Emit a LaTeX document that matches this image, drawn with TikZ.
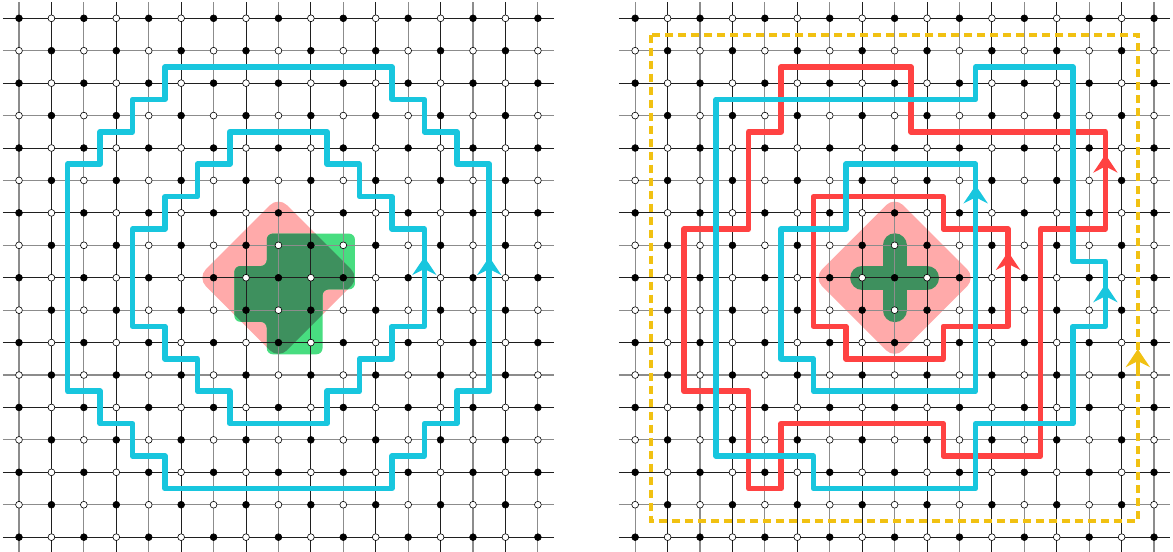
\documentclass[tikz,border=0pt]{standalone}
\usetikzlibrary{arrows.meta}
\definecolor{pathcyan}{RGB}{24,198,222}
\definecolor{pathred}{RGB}{255,66,66}
\definecolor{diamondpink}{RGB}{255,170,170}
\definecolor{brightgreen}{RGB}{72,221,128}
\definecolor{deepgreen}{RGB}{62,144,94}
\definecolor{pathyellow}{RGB}{241,193,18}
\newcommand\drawlattice[1]{%
  \foreach \k in {0,2,...,16} {
    \draw[gridgray] (\k,-0.5) -- (\k,16.6);
    \draw[gridblack] (-0.5,\k) -- (16.5,\k);
  }
  \foreach \k in {1,3,...,15} {
    \draw[gridblack] (\k,-0.5) -- (\k,16.6);
    \draw[gridgray] (-0.5,\k) -- (16.5,\k);
  }
  \foreach \c in {0,...,16} {
    \foreach \r in {0,...,16} {
      \pgfmathtruncatemacro\parity{mod(\c+\r,2)}
      \ifnum\parity=0
        \node[blacknode] (#1-\c-\r) at (\c,\r) {};
      \else
        \node[whitenode] (#1-\c-\r) at (\c,\r) {};
      \fi
    }
  }
}
\begin{document}
\begin{tikzpicture}[x=32.43pt,y=-32.43pt,
  gridgray/.style={draw=black!45,line width=1.2pt},
  gridblack/.style={draw=black!88,line width=0.9pt},
  blacknode/.style={circle,draw=black,fill=black,inner sep=0pt,minimum size=6.8pt,line width=0.6pt},
  whitenode/.style={circle,draw=black,fill=white,inner sep=0pt,minimum size=6.8pt,line width=0.6pt},
  cyanloop/.style={draw=pathcyan,line width=5.5pt,line join=round},
  redloop/.style={draw=pathred,line width=5.5pt,line join=round},
  yellowloop/.style={draw=pathyellow,line width=4pt,dash pattern=on 8pt off 5pt},
  flowtip/.style={-{Stealth[length=18pt,width=24pt,inset=6pt]}},
  diamondfill/.style={fill=diamondpink,rounded corners=12pt},
]
\useasboundingbox (-0.586,-0.564) rectangle (35.585,16.457);
\fill[white] (-0.586,-0.564) rectangle (35.585,16.457);

% ---------------- left panel ----------------
\begin{scope}
  \path[diamondfill] (8,5.5) -- (10.5,8) -- (8,10.5) -- (5.5,8) -- cycle;
  \fill[brightgreen,rounded corners=6pt] (7.64,6.64) -- (10.36,6.64) -- (10.36,8.36) -- (9.36,8.36) -- (9.36,10.36) -- (7.64,10.36) -- (7.64,9.36) -- (6.64,9.36) -- (6.64,7.64) -- (7.64,7.64) -- cycle;
  \begin{scope}
    \clip[rounded corners=12pt] (8,5.5) -- (10.5,8) -- (8,10.5) -- (5.5,8) -- cycle;
    \fill[deepgreen,rounded corners=6pt] (7.64,6.64) -- (10.36,6.64) -- (10.36,8.36) -- (9.36,8.36) -- (9.36,10.36) -- (7.64,10.36) -- (7.64,9.36) -- (6.64,9.36) -- (6.64,7.64) -- (7.64,7.64) -- cycle;
  \end{scope}
  \drawlattice{L}
  \draw[cyanloop] (4.5,1.5) -- (11.5,1.5) -- (11.5,2.5) -- (12.5,2.5) -- (12.5,3.5) -- (13.5,3.5) -- (13.5,4.5) -- (14.5,4.5) -- (14.5,11.5) -- (13.5,11.5) -- (13.5,12.5) -- (12.5,12.5) -- (12.5,13.5) -- (11.5,13.5) -- (11.5,14.5) -- (4.5,14.5) -- (4.5,13.5) -- (3.5,13.5) -- (3.5,12.5) -- (2.5,12.5) -- (2.5,11.5) -- (1.5,11.5) -- (1.5,4.5) -- (2.5,4.5) -- (2.5,3.5) -- (3.5,3.5) -- (3.5,2.5) -- (4.5,2.5) -- cycle;
  \draw[cyanloop] (6.5,3.5) -- (9.5,3.5) -- (9.5,4.5) -- (10.5,4.5) -- (10.5,5.5) -- (11.5,5.5) -- (11.5,6.5) -- (12.5,6.5) -- (12.5,9.5) -- (11.5,9.5) -- (11.5,10.5) -- (10.5,10.5) -- (10.5,11.5) -- (9.5,11.5) -- (9.5,12.5) -- (6.5,12.5) -- (6.5,11.5) -- (5.5,11.5) -- (5.5,10.5) -- (4.5,10.5) -- (4.5,9.5) -- (3.5,9.5) -- (3.5,6.5) -- (4.5,6.5) -- (4.5,5.5) -- (5.5,5.5) -- (5.5,4.5) -- (6.5,4.5) -- cycle;
  \coordinate (LoA) at (14.5,8.1); \coordinate (LoB) at (14.5,7.36);
  \coordinate (LiA) at (12.5,8.1); \coordinate (LiB) at (12.5,7.36);
  \draw[cyanloop,flowtip] (LoA) -- (LoB);
  \draw[cyanloop,flowtip] (LiA) -- (LiB);
\end{scope}

% ---------------- right panel ----------------
\begin{scope}[shift={(19,0)}]
  \path[diamondfill] (8,5.5) -- (10.5,8) -- (8,10.5) -- (5.5,8) -- cycle;
  \draw[deepgreen,line width=24pt,line cap=round] (7,8) -- (9,8) (8,7) -- (8,9);
  \drawlattice{R}
  \draw[yellowloop] (0.5,0.5) rectangle (15.5,15.5);
  \coordinate (RyA) at (15.5,10.85); \coordinate (RyB) at (15.5,10.2);
  \draw[draw=pathyellow,line width=4pt,flowtip] (RyA) -- (RyB);
  \draw[redloop] (4.5,1.5) -- (8.5,1.5) -- (8.5,3.5) -- (14.5,3.5) -- (14.5,6.5) -- (12.5,6.5) -- (12.5,13.5) -- (9.5,13.5) -- (9.5,12.5) -- (4.5,12.5) -- (4.5,14.5) -- (3.5,14.5) -- (3.5,11.5) -- (1.5,11.5) -- (1.5,6.5) -- (3.5,6.5) -- (3.5,3.5) -- (4.5,3.5) -- cycle;
  \draw[redloop] (5.5,5.5) -- (9.5,5.5) -- (9.5,6.5) -- (11.5,6.5) -- (11.5,9.5) -- (9.5,9.5) -- (9.5,10.5) -- (6.5,10.5) -- (6.5,9.5) -- (5.5,9.5) -- cycle;
  \coordinate (RroA) at (14.5,4.9); \coordinate (RroB) at (14.5,4.2);
  \coordinate (RriA) at (11.5,7.9); \coordinate (RriB) at (11.5,7.2);
  \draw[redloop,flowtip] (RroA) -- (RroB);
  \draw[redloop,flowtip] (RriA) -- (RriB);
  \draw[cyanloop] (2.5,2.5) -- (10.5,2.5) -- (10.5,1.5) -- (13.5,1.5) -- (13.5,7.5) -- (14.5,7.5) -- (14.5,9.5) -- (13.5,9.5) -- (13.5,12.5) -- (10.5,12.5) -- (10.5,14.5) -- (5.5,14.5) -- (5.5,13.5) -- (2.5,13.5) -- cycle;
  \draw[cyanloop] (6.5,4.5) -- (10.5,4.5) -- (10.5,11.5) -- (5.5,11.5) -- (5.5,10.5) -- (4.5,10.5) -- (4.5,6.5) -- (6.5,6.5) -- cycle;
  \coordinate (RcoA) at (14.5,8.9); \coordinate (RcoB) at (14.5,8.2);
  \coordinate (RciA) at (10.5,5.85); \coordinate (RciB) at (10.5,5.15);
  \draw[cyanloop,flowtip] (RcoA) -- (RcoB);
  \draw[cyanloop,flowtip] (RciA) -- (RciB);
\end{scope}
\end{tikzpicture}
\end{document}
